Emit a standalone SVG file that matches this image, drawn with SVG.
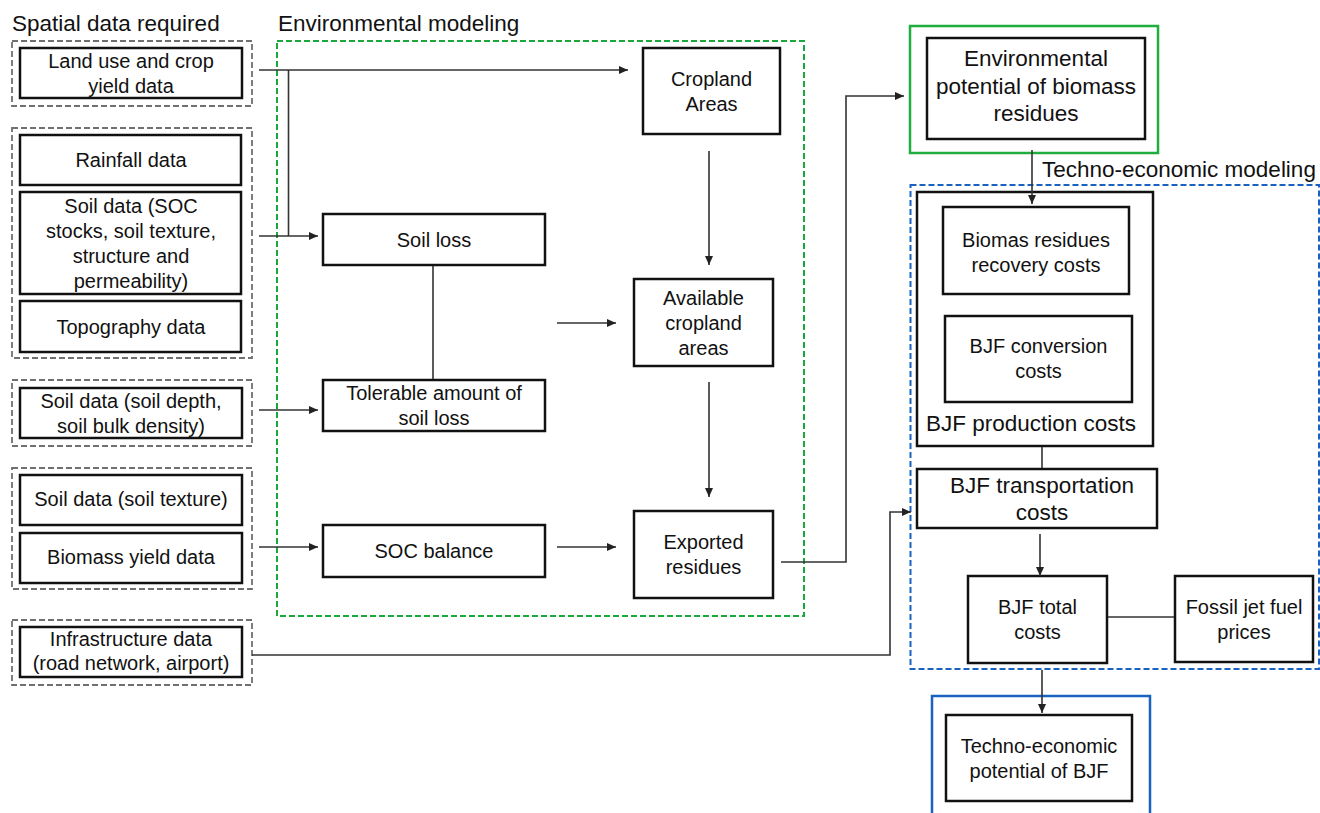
<svg xmlns="http://www.w3.org/2000/svg" width="1320" height="813" viewBox="0 0 1320 813">
<defs>
<marker id="arr" markerUnits="userSpaceOnUse" markerWidth="9" markerHeight="8" refX="9" refY="4" orient="auto">
<path d="M0,0 L9,4 L0,8 z" fill="#222"/>
</marker>
<style>
.node{fill:#fff;stroke:#111;stroke-width:2.5}
.grp{fill:none;stroke:#707070;stroke-width:1.8;stroke-dasharray:6 3}
.t{font-family:"Liberation Sans",Arial,sans-serif;font-size:20px;fill:#111;text-anchor:middle}
.big{font-family:"Liberation Sans",Arial,sans-serif;font-size:22.5px;fill:#111}
.c{fill:none;stroke:#333;stroke-width:1.6}
.ca{fill:none;stroke:#333;stroke-width:1.6;marker-end:url(#arr)}
</style>
</defs>
<rect width="1320" height="813" fill="#fff"/>

<g id="titles">
<text class="big" x="12" y="31">Spatial data required</text>
<text class="big" x="278" y="31">Environmental modeling</text>
<text class="big" x="1042" y="177">Techno-economic modeling</text>
</g>

<g id="groups">
<rect class="grp" x="12" y="41" width="240" height="65"/>
<rect class="grp" x="12" y="128" width="240" height="230"/>
<rect class="grp" x="12" y="380" width="240" height="66"/>
<rect class="grp" x="12" y="468" width="240" height="121"/>
<rect class="grp" x="12" y="620" width="240" height="65"/>
<rect x="277" y="41" width="527" height="575" fill="none" stroke="#1aa83a" stroke-width="2" stroke-dasharray="6 3"/>
<rect x="910" y="26" width="248" height="127" fill="none" stroke="#1fad3d" stroke-width="2.5"/>
<rect x="910.5" y="185" width="408.5" height="484" fill="none" stroke="#1863c0" stroke-width="2" stroke-dasharray="6 3"/>
<rect x="932" y="696" width="218" height="140" fill="none" stroke="#1863c0" stroke-width="2.5"/>
</g>

<g id="land-use">
<rect class="node" x="20" y="48" width="222" height="50"/>
<text class="t" x="131" y="68">Land use and crop</text>
<text class="t" x="131" y="93">yield data</text>
</g>
<g id="rainfall">
<rect class="node" x="20" y="135" width="221" height="50"/>
<text class="t" x="131" y="167">Rainfall data</text>
</g>
<g id="soil-soc">
<rect class="node" x="20" y="192" width="221" height="102"/>
<text class="t" x="131" y="213">Soil data (SOC</text>
<text class="t" x="131" y="238">stocks, soil texture,</text>
<text class="t" x="131" y="263">structure and</text>
<text class="t" x="131" y="288">permeability)</text>
</g>
<g id="topography">
<rect class="node" x="20" y="301" width="221" height="51"/>
<text class="t" x="131" y="334">Topography data</text>
</g>
<g id="soil-depth">
<rect class="node" x="20" y="388" width="222" height="50"/>
<text class="t" x="131" y="408">Soil data (soil depth,</text>
<text class="t" x="131" y="433">soil bulk density)</text>
</g>
<g id="soil-texture">
<rect class="node" x="20" y="475" width="222" height="50"/>
<text class="t" x="131" y="506">Soil data (soil texture)</text>
</g>
<g id="biomass-yield">
<rect class="node" x="20" y="533" width="222" height="50"/>
<text class="t" x="131" y="564">Biomass yield data</text>
</g>
<g id="infrastructure">
<rect class="node" x="20" y="627" width="222" height="50"/>
<text class="t" x="131" y="646">Infrastructure data</text>
<text class="t" x="131" y="670">(road network, airport)</text>
</g>

<g id="cropland">
<rect class="node" x="643" y="48" width="137" height="86"/>
<text class="t" x="711.5" y="86">Cropland</text>
<text class="t" x="711.5" y="111">Areas</text>
</g>
<g id="soil-loss">
<rect class="node" x="323" y="214" width="222" height="51"/>
<text class="t" x="434" y="247">Soil loss</text>
</g>
<g id="available">
<rect class="node" x="634" y="279" width="139" height="87"/>
<text class="t" x="703.5" y="305">Available</text>
<text class="t" x="703.5" y="330">cropland</text>
<text class="t" x="703.5" y="355">areas</text>
</g>
<g id="tolerable">
<rect class="node" x="323" y="380" width="222" height="51"/>
<text class="t" x="434" y="400">Tolerable amount of</text>
<text class="t" x="434" y="425">soil loss</text>
</g>
<g id="soc-balance">
<rect class="node" x="323" y="525" width="222" height="52"/>
<text class="t" x="434" y="558">SOC balance</text>
</g>
<g id="exported">
<rect class="node" x="634" y="511" width="139" height="87"/>
<text class="t" x="703.5" y="549">Exported</text>
<text class="t" x="703.5" y="574">residues</text>
</g>

<g id="env-potential">
<rect class="node" x="927" y="38" width="218" height="101"/>
<text class="big" text-anchor="middle" x="1036" y="66">Environmental</text>
<text class="big" text-anchor="middle" x="1036" y="93.5">potential of biomass</text>
<text class="big" text-anchor="middle" x="1036" y="121">residues</text>
</g>
<g id="production">
<rect class="node" x="917" y="192" width="236" height="254"/>
<text class="big" x="926" y="431">BJF production costs</text>
</g>
<g id="recovery">
<rect class="node" x="943" y="207" width="186" height="87"/>
<text class="t" x="1036" y="247">Biomas residues</text>
<text class="t" x="1036" y="272">recovery costs</text>
</g>
<g id="conversion">
<rect class="node" x="945" y="316" width="187" height="86"/>
<text class="t" x="1038.5" y="353">BJF conversion</text>
<text class="t" x="1038.5" y="378">costs</text>
</g>
<g id="transportation">
<rect class="node" x="917" y="469" width="240" height="59"/>
<text class="big" text-anchor="middle" x="1042" y="493">BJF transportation</text>
<text class="big" text-anchor="middle" x="1042" y="520">costs</text>
</g>
<g id="total">
<rect class="node" x="968" y="576" width="139" height="87"/>
<text class="t" x="1037.5" y="614">BJF total</text>
<text class="t" x="1037.5" y="639">costs</text>
</g>
<g id="fossil">
<rect class="node" x="1175" y="576" width="138" height="86"/>
<text class="t" x="1244" y="614">Fossil jet fuel</text>
<text class="t" x="1244" y="639">prices</text>
</g>
<g id="techno-potential">
<rect class="node" x="946" y="715" width="186" height="86"/>
<text class="t" x="1039" y="753">Techno-economic</text>
<text class="t" x="1039" y="778">potential of BJF</text>
</g>

<g id="connectors">
<path class="ca" d="M259,70 H628"/>
<path class="c" d="M288.5,70 V236"/>
<path class="ca" d="M259,236 H318"/>
<path class="c" d="M433,266 V379"/>
<path class="ca" d="M259,410 H318"/>
<path class="ca" d="M259,547 H318"/>
<path class="ca" d="M557,323 H616"/>
<path class="ca" d="M557,547 H616"/>
<path class="ca" d="M709,151 V265"/>
<path class="ca" d="M709,382 V497"/>
<path class="ca" d="M781,562 H846 V96 H904"/>
<path class="ca" d="M252,655 H890 V512 H911"/>
<path class="ca" d="M1032,150 V204"/>
<path class="c" d="M1042,447 V468"/>
<path class="ca" d="M1040,534 V576"/>
<path class="c" d="M1108,617 H1174"/>
<path class="ca" d="M1042,670 V713"/>
</g>
</svg>
